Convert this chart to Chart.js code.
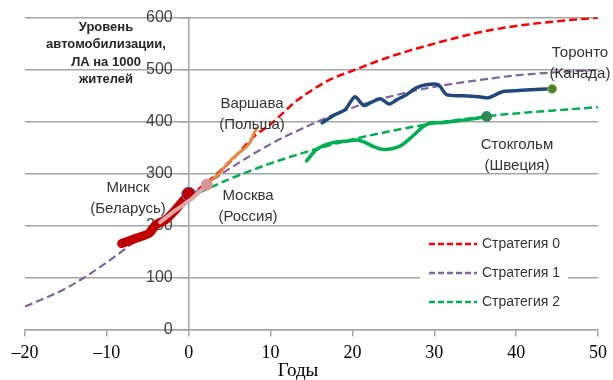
<!DOCTYPE html>
<html>
<head>
<meta charset="utf-8">
<script src="https://cdn.jsdelivr.net/npm/chart.js@4/dist/chart.umd.min.js"></script>
<style>
  html, body { margin: 0; padding: 0; background: #fff; }
</style>
</head>
<body>
<canvas id="chart" width="613" height="380"></canvas>
<script>
// values (годы / ЛА на 1000 жителей)
var yearTicks = [-20, -10, 0, 10, 20, 30, 40, 50];
var levelTicks = [0, 100, 200, 300, 400, 500, 600];

var strategyNames = ['Стратегия 0', 'Стратегия 1', 'Стратегия 2'];
var years0 = [0, 5, 8, 10, 13, 15, 17, 20, 25, 30, 35, 40, 45, 50];
var strategy0 = [255, 322, 372, 395, 438, 460, 479, 498, 527, 550, 570, 584, 593, 600];
var years1 = [-20, -15, -10, -5, 0, 5, 10, 15, 20, 25, 30, 35, 40, 45, 50];
var strategy1 = [45, 80, 130, 190, 255, 310, 357, 395, 427, 450, 467, 479, 489, 495, 500];
var years2 = [0, 5, 10, 15, 20, 25, 30, 35, 40, 45, 50];
var strategy2 = [255, 290, 320, 345, 366, 383, 397, 408, 416, 422, 428];

var minskYears = [-8.2, -6.3, -4.8, -4, -2.8, -1.6, -0.6, 0];
var minsk = [166, 177, 186, 202, 212, 231, 250, 261];
var moscowYears = [-3.5, -1.5, 0.5, 2.2];
var moscow = [207, 231, 254, 279];
var warsawYears = [2.2, 3.8, 4.8, 5.8, 6.9, 7.5, 7.9, 8.3];
var warsaw = [280, 302, 321, 336, 350, 360, 375, 388];
var torontoYears = [16.3, 17.8, 19.1, 20.3, 21.4, 22.4, 23.4, 24.5, 25.4, 26.6, 27.8, 29, 30.5, 31.5, 33.5, 35.5, 36.6, 38.4, 40.3, 42.4, 44.4];
var toronto = [398, 413, 423, 448, 431, 438, 444, 434, 442, 452, 465, 471, 471, 452, 450, 448, 446, 458, 460, 462, 463];
var stockholmYears = [14.4, 15.5, 16.6, 18, 19.5, 20.6, 21.6, 22.6, 23.6, 24.8, 26, 27.4, 28.6, 29.6, 31, 33, 35, 36.4];
var stockholm = [325, 345, 355, 361, 363, 365, 360, 352, 347, 348, 355, 373, 390, 398, 398, 402, 406, 410];

var GRID = '#a6a6a6';

function pairs(xs, ys) {
  var out = [];
  for (var i = 0; i < xs.length; i++) out.push({x: xs[i], y: ys[i]});
  return out;
}

// only the last point of a series gets a dot
function lastDot(r) {
  return function(ctx) {
    return ctx.dataIndex === ctx.dataset.data.length - 1 ? r : 0;
  };
}

function strategyLine(i, xs, ys, color, width) {
  return {
    label: strategyNames[i],
    data: pairs(xs, ys),
    borderColor: color,
    borderWidth: width,
    borderDash: [8, 4],
    pointRadius: 0,
    tension: 0.4,
    cubicInterpolationMode: 'monotone',
    order: 10
  };
}

function cityLine(xs, ys, color, width, dot, dotColor, dotBorder, order) {
  return {
    data: pairs(xs, ys),
    borderColor: color,
    borderWidth: width,
    borderCapStyle: 'round',
    borderJoinStyle: 'round',
    tension: 0.25,
    pointRadius: lastDot(dot),
    pointBackgroundColor: dotColor,
    pointBorderColor: dotBorder,
    pointBorderWidth: 1,
    order: order
  };
}

var notesPlugin = {
  id: 'notes',
  afterDraw: function(chart) {
    var ctx = chart.ctx;
    ctx.save();
    ctx.textAlign = 'center';
    ctx.textBaseline = 'middle';

    // y axis title
    ctx.fillStyle = '#262626';
    ctx.font = 'bold 13px "Liberation Sans", Arial, sans-serif';
    ['Уровень', 'автомобилизации,', 'ЛА на 1000', 'жителей'].forEach(function(t, i) {
      ctx.fillText(t, 106, 27 + i * 17.5);
    });

    // city labels
    ctx.fillStyle = '#333';
    ctx.font = '15px "Liberation Sans", Arial, sans-serif';
    var notes = [
      ['Минск', '(Беларусь)', 128, 188],
      ['Москва', '(Россия)', 248, 196],
      ['Варшава', '(Польша)', 252, 104],
      ['Торонто', '(Канада)', 580, 53],
      ['Стокгольм', '(Швеция)', 517, 145]
    ];
    notes.forEach(function(n) {
      ctx.fillText(n[0], n[2], n[3]);
      ctx.fillText(n[1], n[2], n[3] + 21);
    });

    // x axis title
    ctx.fillStyle = '#000';
    ctx.font = '19px "Liberation Serif", "Times New Roman", serif';
    ctx.fillText('Годы', 298, 371);

    // legend
    ctx.fillStyle = '#fff';
    ctx.fillRect(420, 231, 148, 85);
    var colors = ['#ff0000', '#8064a2', '#00b050'];
    ctx.font = '14px "Liberation Sans", Arial, sans-serif';
    ctx.textAlign = 'left';
    for (var i = 0; i < 3; i++) {
      var y = 244 + i * 29;
      ctx.strokeStyle = colors[i];
      ctx.lineWidth = 2.5;
      ctx.setLineDash([6, 3]);
      ctx.beginPath();
      ctx.moveTo(429, y);
      ctx.lineTo(477, y);
      ctx.stroke();
      ctx.fillStyle = '#333';
      ctx.fillText(strategyNames[i], 482, y);
    }
    ctx.restore();
  }
};

new Chart(document.getElementById('chart'), {
  type: 'line',
  data: {
    datasets: [
      cityLine(moscowYears, moscow, '#dba9a8', 4, 5.5, '#d99694', '#d99694', 1),
      cityLine(warsawYears, warsaw, '#e8883a', 3, 0, '#e8883a', '#e8883a', 2),
      cityLine(minskYears, minsk, '#c00000', 9, 7, '#c00000', '#4f81bd', 3),
      cityLine(torontoYears, toronto, '#1f497d', 3.5, 4.5, '#4f7f2f', '#9bbb59', 4),
      cityLine(stockholmYears, stockholm, '#00b050', 3.5, 5, '#2e8b57', '#2e8b57', 5),
      strategyLine(0, years0, strategy0, '#ff0000', 2.5),
      strategyLine(1, years1, strategy1, '#8064a2', 2.2),
      strategyLine(2, years2, strategy2, '#00b050', 2.5)
    ]
  },
  options: {
    responsive: false,
    animation: false,
    layout: { padding: { left: 25, right: 9, top: 17, bottom: 50 } },
    plugins: {
      legend: { display: false },
      tooltip: { enabled: false }
    },
    scales: {
      x: {
        type: 'linear',
        position: { y: 0 },
        min: -20,
        max: 50,
        afterBuildTicks: function(axis) {
          axis.ticks = yearTicks.map(function(v) { return {value: v}; });
        },
        border: { color: GRID, width: 1.5 },
        grid: { drawOnChartArea: false, drawTicks: true, tickLength: 6, color: GRID, lineWidth: 1.5 },
        ticks: {
          color: '#000',
          padding: 6,
          maxRotation: 0,
          font: { family: '"Liberation Serif", "Times New Roman", serif', size: 18 },
          callback: function(v) { return String(v).replace('-', '\u2013'); }
        }
      },
      y: {
        type: 'linear',
        position: { x: 0 },
        min: 0,
        max: 600,
        afterBuildTicks: function(axis) {
          axis.ticks = levelTicks.map(function(v) { return {value: v}; });
        },
        border: { color: GRID, width: 1.5 },
        grid: { color: GRID, lineWidth: 1.5, tickLength: 8 },
        ticks: {
          color: '#404040',
          padding: 8,
          font: { family: '"Liberation Sans", Arial, sans-serif', size: 16 },
          // labels sit left of the axis line, keep a gap
          callback: function(v) { return v + '\u2002\u2002'; }
        }
      }
    }
  },
  plugins: [notesPlugin]
});
</script>
</body>
</html>
